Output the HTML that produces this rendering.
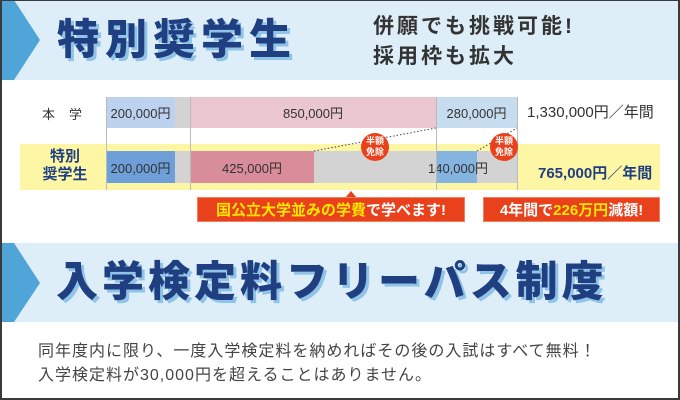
<!DOCTYPE html>
<html><head><meta charset="utf-8"><style>
*{margin:0;padding:0;box-sizing:border-box}
body{width:680px;height:400px;position:relative;background:#fff;font-family:"Liberation Sans","Noto Sans CJK JP",sans-serif;overflow:hidden}
.a{position:absolute}
.frame{left:0;top:0;width:680px;height:400px;border:2px solid #3a3a3a;border-top-width:1px;z-index:10}
.band{left:0;width:680px;background:#ddeef8}
.title{color:#1f3f80;font-weight:900;text-shadow:3px 3px 0 #8fc3e8;white-space:nowrap}
.c{display:flex;align-items:center;justify-content:center;white-space:nowrap;font-size:13px;color:#333}
.red{background:#e8411c;color:#fff;font-weight:bold;font-size:15px;border:1px solid #f08060}
.badge{width:28px;height:28px;border-radius:50%;background:#e8411c;color:#fff;font-size:9px;font-weight:bold;line-height:11px;text-align:center;padding-top:3px}
.vl{width:1px;background:#bbb;top:97px;height:93px}
</style></head><body>
<div class="a band" style="top:0;height:80px"></div>
<svg class="a" style="left:0;top:0" width="42" height="80"><polygon points="0,0 14,0 40,40 14,80 0,80" fill="#4fa5d8"/></svg>
<div class="a title" style="left:57px;top:14px;font-size:42px;letter-spacing:6px;line-height:52px">特別奨学生</div>
<div class="a" style="left:373px;top:12px;font-size:21px;font-weight:bold;color:#333;letter-spacing:3px;line-height:30px">併願でも挑戦可能!<br>採用枠も拡大</div>

<div class="a" style="left:20px;top:144px;width:640px;height:46px;background:#fdf6a4"></div>
<div class="a c" style="left:106px;top:97px;width:69px;height:31px;background:#bcd2ee">200,000円</div>
<div class="a" style="left:175px;top:97px;width:15px;height:31px;background:#d3d3d3"></div>
<div class="a c" style="left:190px;top:97px;width:246px;height:31px;background:#eac6ce">850,000円</div>
<div class="a c" style="left:436px;top:97px;width:81px;height:31px;background:#c8dcef">280,000円</div>

<div class="a c" style="left:106px;top:151px;width:69px;height:32px;background:#6e9fd8">200,000円</div>
<div class="a" style="left:175px;top:151px;width:15px;height:32px;background:#d3d3d3"></div>
<div class="a c" style="left:190px;top:151px;width:124px;height:32px;background:#d98c9a">425,000円</div>
<div class="a" style="left:314px;top:151px;width:122px;height:32px;background:#d3d3d3"></div>
<div class="a" style="left:436px;top:151px;width:41px;height:32px;background:#86b4e0"></div>
<div class="a" style="left:477px;top:151px;width:40px;height:32px;background:#d3d3d3"></div>
<div class="a c" style="left:428px;top:151px;width:60px;height:32px">140,000円</div>
<div class="a vl" style="left:106px"></div><div class="a vl" style="left:190px"></div><div class="a vl" style="left:436px"></div><div class="a vl" style="left:517px"></div>
<svg class="a" style="left:0;top:0" width="680" height="200"><line x1="314" y1="151" x2="436" y2="128" stroke="#444" stroke-dasharray="1.5,2"/><line x1="477" y1="151" x2="517" y2="128" stroke="#444" stroke-dasharray="1.5,2"/></svg>
<div class="a badge" style="left:361px;top:133px">半額<br>免除</div>
<div class="a badge" style="left:490px;top:133px">半額<br>免除</div>

<div class="a" style="left:42px;top:104px;font-size:13px;color:#333;letter-spacing:14px">本学</div>
<div class="a" style="left:40px;top:148px;font-size:15px;font-weight:bold;color:#1f3f80;line-height:18px;text-align:center;width:50px">特別<br>奨学生</div>
<div class="a" style="left:527px;top:101px;font-size:15px;color:#333">1,330,000円／年間</div>
<div class="a" style="left:538px;top:162px;font-size:15px;font-weight:bold;color:#1f3f80">765,000円／年間</div>

<svg class="a" style="left:343px;top:188px" width="16" height="12"><polygon points="2,10 8,3 14,10" fill="#e8411c"/></svg>
<div class="a c red" style="left:197px;top:197px;width:268px;height:25px;color:#fff"><span style="color:#ffe600">国公立大学並みの学費</span>で学べます!</div>
<div class="a c red" style="left:483px;top:197px;width:177px;height:25px;color:#fff">4年間で<span style="color:#ffe600">226万円</span>減額!</div>

<div class="a band" style="top:243px;height:79px"></div>
<svg class="a" style="left:0;top:243px" width="42" height="79"><polygon points="0,0 14,0 40,40 14,79 0,79" fill="#4fa5d8"/></svg>
<div class="a title" style="left:56px;top:256px;font-size:42px;letter-spacing:4px;line-height:52px">入学検定料フリーパス制度</div>
<div class="a" style="left:38px;top:340px;font-size:16px;color:#444;line-height:24px;letter-spacing:1px;white-space:nowrap">同年度内に限り、一度入学検定料を納めればその後の入試はすべて無料！<br>入学検定料が30,000円を超えることはありません。</div>
<div class="a frame"></div>
</body></html>
